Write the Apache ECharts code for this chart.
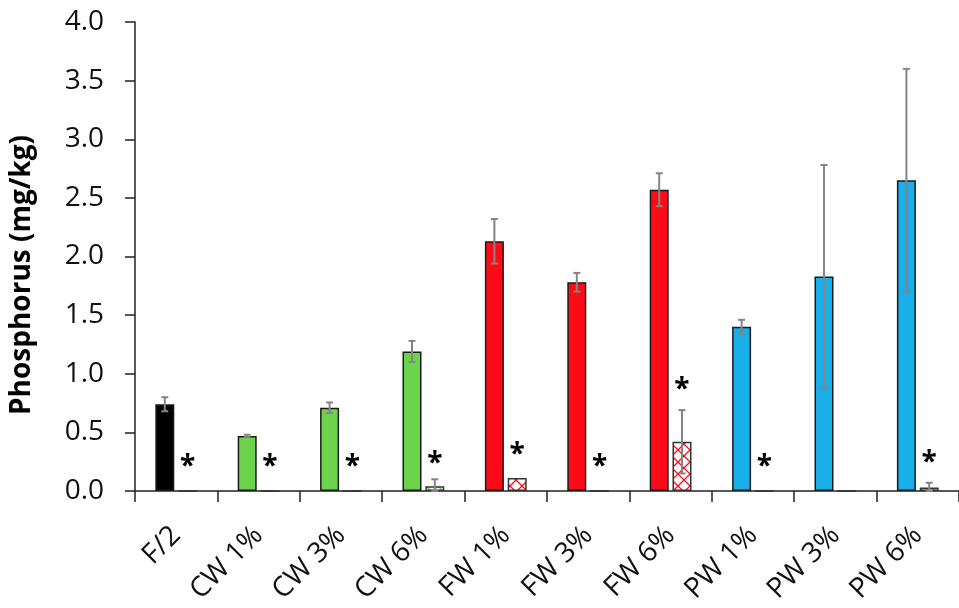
<!DOCTYPE html>
<html>
<head>
<meta charset="utf-8">
<script src="https://cdn.jsdelivr.net/npm/echarts@6/dist/echarts.min.js"></script>
<style>
  html, body { margin: 0; padding: 0; background: #fff; }
  #chart { width: 959px; height: 608px; }
</style>
</head>
<body>
<div id="chart"></div>
<script>
// ---- data ----
const categories = ['F/2', 'CW 1%', 'CW 3%', 'CW 6%', 'FW 1%', 'FW 3%', 'FW 6%', 'PW 1%', 'PW 3%', 'PW 6%'];
const solidValues   = [0.74, 0.47, 0.71, 1.19, 2.13, 1.78, 2.57, 1.40, 1.83, 2.65];
const solidErrors   = [0.06, 0.01, 0.045, 0.09, 0.19, 0.08, 0.14, 0.06, 0.95, 0.95];
const hatchedValues = [0, 0, 0, 0.04, 0.11, 0, 0.42, 0, 0, 0.03];
const hatchedErrors = [0, 0, 0, 0.06, 0, 0, 0.27, 0, 0, 0.04];
const starPositions = [0.26, 0.26, 0.26, 0.29, 0.37, 0.26, 0.92, 0.26, null, 0.30];
const yMin = 0, yMax = 4, yInterval = 0.5;

// ---- styling ----
const groupColors = ['#000000', '#6CD44A', '#6CD44A', '#6CD44A', '#FF0A17', '#FF0A17', '#FF0A17', '#17AEEA', '#17AEEA', '#17AEEA'];
const FONT = '"Open Sans", "Liberation Sans", sans-serif';
const BAR_W = 19, GAP = 0.2;
const OFFSET = (BAR_W + BAR_W * GAP) / 2;

function hatch(color) {
  const n = 12;
  const c = document.createElement('canvas');
  c.width = n; c.height = n;
  const ctx = c.getContext('2d');
  ctx.fillStyle = '#ffffff';
  ctx.fillRect(0, 0, n, n);
  ctx.strokeStyle = color;
  ctx.lineWidth = 1.3;
  ctx.beginPath();
  ctx.moveTo(0, 0); ctx.lineTo(n, n);
  ctx.moveTo(n, 0); ctx.lineTo(0, n);
  ctx.stroke();
  return { image: c, repeat: 'repeat' };
}

function errorRenderer(offset) {
  return function (params, api) {
    const i = api.value(0), v = api.value(1), e = api.value(2);
    if (!e) return null;
    const c = api.coord([i, v]);
    const t = api.coord([i, v + e]);
    const b = api.coord([i, Math.max(v - e, 0)]);
    const x = c[0] + offset;
    const st = { stroke: '#858585', lineWidth: 2 };
    return {
      type: 'group',
      children: [
        { type: 'line', shape: { x1: x, y1: t[1], x2: x, y2: b[1] }, style: st },
        { type: 'line', shape: { x1: x - 3.5, y1: t[1], x2: x + 3.5, y2: t[1] }, style: st },
        { type: 'line', shape: { x1: x - 3.5, y1: b[1], x2: x + 3.5, y2: b[1] }, style: st }
      ]
    };
  };
}

const chart = echarts.init(document.getElementById('chart'), null, { renderer: 'canvas' });

const option = {
  animation: false,
  backgroundColor: '#ffffff',
  grid: { left: 135, right: -9, top: 22, bottom: 117 },
  xAxis: {
    type: 'category',
    data: categories,
    boundaryGap: true,
    axisLine: { lineStyle: { color: '#222', width: 1.5 } },
    axisTick: { show: true, length: 11, interval: 0, lineStyle: { color: '#222', width: 1.5 } },
    axisLabel: { interval: 0, rotate: 45, margin: 40, color: '#111', fontSize: 28, fontFamily: FONT }
  },
  yAxis: {
    type: 'value',
    min: yMin, max: yMax, interval: yInterval,
    splitLine: { show: false },
    axisLine: { show: true, lineStyle: { color: '#222', width: 1.5 } },
    axisTick: { show: true, length: 10, lineStyle: { color: '#222', width: 1.5 } },
    axisLabel: { margin: 31, color: '#111', fontSize: 28, fontFamily: FONT, formatter: v => v.toFixed(1) }
  },
  graphic: [{
    type: 'text',
    x: 22, y: 275,
    rotation: Math.PI / 2,
    style: {
      text: 'Phosphorus (mg/kg)',
      font: 'bold 28px ' + FONT,
      fill: '#000',
      textAlign: 'center',
      textVerticalAlign: 'middle'
    }
  }],
  series: [
    {
      type: 'bar',
      barWidth: BAR_W,
      barGap: (GAP * 100) + '%',
      data: solidValues.map((v, i) => ({
        value: v,
        itemStyle: { color: groupColors[i], borderColor: '#1a1a1a', borderWidth: 1.5 }
      }))
    },
    {
      type: 'bar',
      barWidth: BAR_W,
      data: hatchedValues.map((v, i) => ({
        value: v,
        itemStyle: { color: hatch(groupColors[i]), borderColor: '#333', borderWidth: 1.5 }
      }))
    },
    {
      type: 'custom',
      z: 5,
      renderItem: errorRenderer(-OFFSET),
      encode: { x: 0, y: 1 },
      data: solidValues.map((v, i) => [i, v, solidErrors[i]])
    },
    {
      type: 'custom',
      z: 5,
      renderItem: errorRenderer(OFFSET),
      encode: { x: 0, y: 1 },
      data: hatchedValues.map((v, i) => [i, v, hatchedErrors[i]])
    },
    {
      type: 'custom',
      z: 6,
      encode: { x: 0, y: 1 },
      data: starPositions.map((v, i) => [i, v]).filter(d => d[1] != null),
      renderItem: function (params, api) {
        const p = api.coord([api.value(0), api.value(1)]);
        return {
          type: 'text',
          x: p[0] + OFFSET,
          y: p[1] + 7,
          style: {
            text: '*',
            font: 'bold 28px ' + FONT,
            fill: '#000',
            textAlign: 'center',
            textVerticalAlign: 'middle'
          }
        };
      }
    }
  ]
};

chart.setOption(option);
</script>
</body>
</html>
